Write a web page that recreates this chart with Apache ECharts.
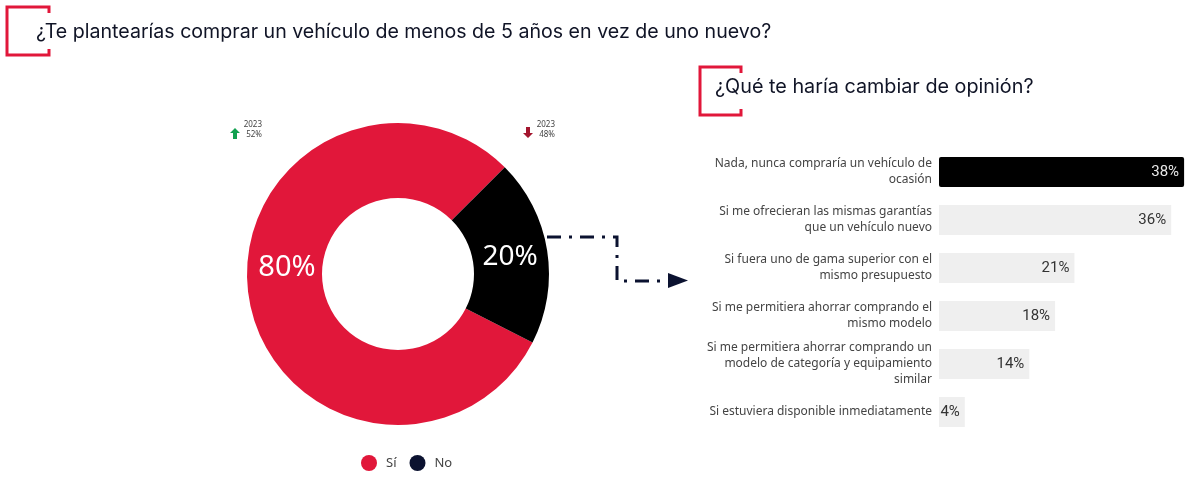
<!DOCTYPE html>
<html><head><meta charset="utf-8">
<style>html,body{margin:0;padding:0;background:#fff}#c{width:1197px;height:482px}</style>
<script src="https://cdn.jsdelivr.net/npm/echarts@6/dist/echarts.min.js"></script>
</head><body><div id="c"></div>
<script>
const pieNames = ['Sí', 'No'];
const pieValues = [80, 20];
const reasons = [
  'Nada, nunca compraría un vehículo de\nocasión',
  'Si me ofrecieran las mismas garantías\nque un vehículo nuevo',
  'Si fuera uno de gama superior con el\nmismo presupuesto',
  'Si me permitiera ahorrar comprando el\nmismo modelo',
  'Si me permitiera ahorrar comprando un\nmodelo de categoría y equipamiento\nsimilar',
  'Si estuviera disponible inmediatamente'
];
const reasonValues = [38, 36, 21, 18, 14, 4];
const title1 = '¿Te plantearías comprar un vehículo de menos de 5 años en vez de uno nuevo?';
const title2 = '¿Qué te haría cambiar de opinión?';
const RED = '#e1173a', NAVY = '#0b1230';
const bracket = (x, y, w, h) => ({
  type: 'polyline',
  shape: { points: [[x + w, y + 6], [x + w, y], [x, y], [x, y + h], [x + w, y + h], [x + w, y + h - 6]] },
  style: { stroke: RED, lineWidth: 3, fill: null }
});
const txt = (x, y, t, size, color, align, font) => ({
  type: 'text', x, y,
  style: { text: t, fontSize: size, fill: color, align: align || 'left', verticalAlign: 'middle', fontFamily: font || 'Lato', lineHeight: size + 1 }
});
const chart = echarts.init(document.getElementById('c'), null, { renderer: 'canvas' });
chart.setOption({
  animation: false,
  backgroundColor: '#fff',
  legend: {
    left: 356, top: 450, itemWidth: 16, itemHeight: 16, itemGap: 13, icon: 'circle',
    textStyle: { fontFamily: 'Noto Sans', fontSize: 13, color: '#444', padding: [0, 0, 0, 4] },
    data: [
      { name: pieNames[0], itemStyle: { color: RED } },
      { name: pieNames[1], itemStyle: { color: NAVY } }
    ]
  },
  grid: { left: 939, top: 148, width: 259, height: 288 },
  xAxis: { type: 'value', min: 0, max: 40, show: false },
  yAxis: {
    type: 'category', inverse: true, data: reasons,
    axisLabel: { margin: 7, align: 'right', fontFamily: 'Noto Sans', fontSize: 12, lineHeight: 16, color: '#444' },
    axisLine: { show: false }, axisTick: { show: false }
  },
  series: [
    {
      type: 'pie', center: [398, 274], radius: [76, 151], startAngle: -27, clockwise: true,
      silent: true,
      label: { show: true, position: 'inside', formatter: '{c}%', color: '#fff', fontFamily: 'Noto Sans', fontSize: 28 },
      labelLine: { show: false },
      data: [
        { name: pieNames[0], value: pieValues[0], itemStyle: { color: RED }, label: { offset: [4, -24], fontSize: 29 } },
        { name: pieNames[1], value: pieValues[1], itemStyle: { color: '#000' }, label: { offset: [-3, 1] } }
      ]
    },
    {
      type: 'bar', barWidth: 30, silent: true,
      label: { show: true, position: 'insideRight', formatter: '{c}%', fontFamily: 'Roboto', fontSize: 15, color: '#333' },
      data: reasonValues.map((v, i) => i === 0
        ? { value: v, itemStyle: { color: '#000', borderRadius: 2 }, label: { color: '#e8e8e8' } }
        : { value: v, itemStyle: { color: '#efefef' } })
    }
  ],
  graphic: [
    bracket(7, 7, 42, 48),
    bracket(700, 67, 41, 48),
    txt(36, 32, title1, 19.6, '#101426', 'left', 'Inter'),
    txt(715, 87, title2, 19.8, '#101426', 'left', 'Inter'),
    txt(262, 125, '2023', 8, '#444', 'right', 'Noto Sans'),
    txt(262, 135, '52%', 8, '#444', 'right', 'Noto Sans'),
    txt(555, 125, '2023', 8, '#444', 'right', 'Noto Sans'),
    txt(555, 135, '48%', 8, '#444', 'right', 'Noto Sans'),
    { type: 'polygon', shape: { points: [[235, 128], [240, 133], [237, 133], [237, 139], [233, 139], [233, 133], [230, 133]] }, style: { fill: '#12a150' } },
    { type: 'polygon', shape: { points: [[528, 138], [533, 133], [530, 133], [530, 127], [526, 127], [526, 133], [523, 133]] }, style: { fill: '#a3162e' } },
    { type: 'polyline', shape: { points: [[547, 237], [617, 237], [617, 281], [668, 281]] },
      style: { stroke: NAVY, lineWidth: 3, fill: null, lineDash: [14, 8, 3, 8] } },
    { type: 'polygon', shape: { points: [[668, 273], [688, 280.5], [668, 288]] }, style: { fill: NAVY } }
  ]
});
</script></body></html>
